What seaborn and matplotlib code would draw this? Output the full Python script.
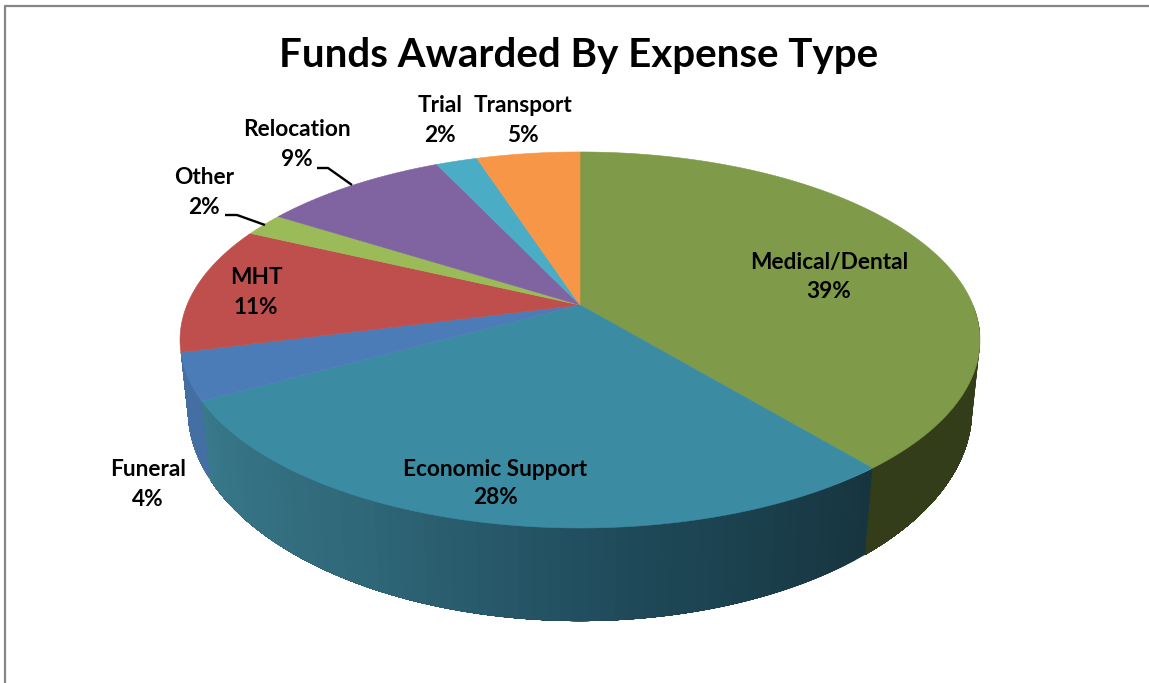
import numpy as np
import matplotlib
matplotlib.use("Agg")
import matplotlib.pyplot as plt
import seaborn as sns

# Slices in clockwise order from 12 o'clock
categories = ["Medical/Dental", "Economic Support", "Funeral", "MHT", "Other", "Relocation", "Trial", "Transport"]
values = [39, 28, 4, 11, 2, 9, 2, 5]
top_colors = ["#7f9a48", "#3b8ba3", "#4c7cb8", "#be4f4c", "#9bbb59", "#8064a2", "#4bacc6", "#f79646"]

# Side wall colours of the slices that show a wall, listed clockwise along the rim
side_colors = {"Medical/Dental": ["#343d1a", "#343d1a"],
               "Economic Support": ["#17353f", "#1f4a5a", "#2f6778", "#38798b"],
               "Funeral": ["#446fa3", "#446fa3"]}

# Label centres in pixels
label_x = [829, 495, 148, 256, 204, 297, 440, 523]
label_y = [263, 469, 470, 278, 178, 130, 106, 106]
leaders = {"Relocation": ([317, 328, 352], [168, 168, 185]),
           "Other": ([225, 237, 265], [215, 215, 225])}

# Perspective of the disc: centre x, centre y, radius, tilt, vertical scale
top_plane = (580, 305, 393, 0.186, 181.5)
low_plane = (580, 372, 386, 0.177, 205)


def project(theta, plane):
    cx, cy, r, k, a = plane
    px = np.sin(theta)
    pv = np.cos(theta)
    d = 1 + k * pv
    return cx + r * px / d, cy - a * pv / d


sns.set_theme(style="white")
plt.rcParams["font.family"] = ["Lato", "DejaVu Sans"]

fig = plt.figure(figsize=(11.49, 6.83), dpi=100)
ax = fig.add_axes([0, 0, 1, 1])
ax.set_xlim(0, 1149)
ax.set_ylim(683, 0)
ax.axis("off")

# Chart frame, only the top and left edges show
ax.plot([5, 5, 1149], [683, 6, 6], color="#868686", lw=1.6)

edges = np.radians(np.concatenate([[0], np.cumsum(values)]) * 3.6)

# Side wall first, only the near half of the disc
for i, name in enumerate(categories):
    if name not in side_colors:
        continue
    start = max(edges[i], np.pi / 2)
    end = min(edges[i + 1], 3 * np.pi / 2)
    n = 60
    pal = sns.blend_palette(side_colors[name], n)
    steps = np.linspace(start, end, n + 1)
    # each band runs on to the slice end so the next one paints over its seam
    for j in range(n):
        th = np.linspace(steps[j], end, 80)
        x_top, y_top = project(th, top_plane)
        x_low, y_low = project(th, low_plane)
        ax.fill(np.r_[x_top, x_low[::-1]], np.r_[y_top, y_low[::-1]], color=pal[j], lw=0, zorder=2)

# Top face
for i, name in enumerate(categories):
    th = np.linspace(edges[i], edges[i + 1], 120)
    xs, ys = project(th, top_plane)
    ax.fill(np.r_[top_plane[0], xs], np.r_[top_plane[1], ys], color=top_colors[i], lw=0.4, zorder=3)

# Leader lines
for name, (lx, ly) in leaders.items():
    ax.plot(lx, ly, color="black", lw=1.7, zorder=4, solid_capstyle="butt")

# Labels
for i, name in enumerate(categories):
    ax.text(label_x[i], label_y[i], name, ha="center", va="center", fontsize=16.3, fontweight="bold",
            color="black", zorder=5)
    ax.text(label_x[i], label_y[i] + 29, f"{values[i]}%", ha="center", va="center", fontsize=16.3,
            fontweight="bold", color="black", zorder=5)

ax.text(579, 56, "Funds Awarded By Expense Type", ha="center", va="center", fontsize=29,
        fontweight="bold", color="black", zorder=5)

fig.savefig("out.png", dpi=100, facecolor="white")
